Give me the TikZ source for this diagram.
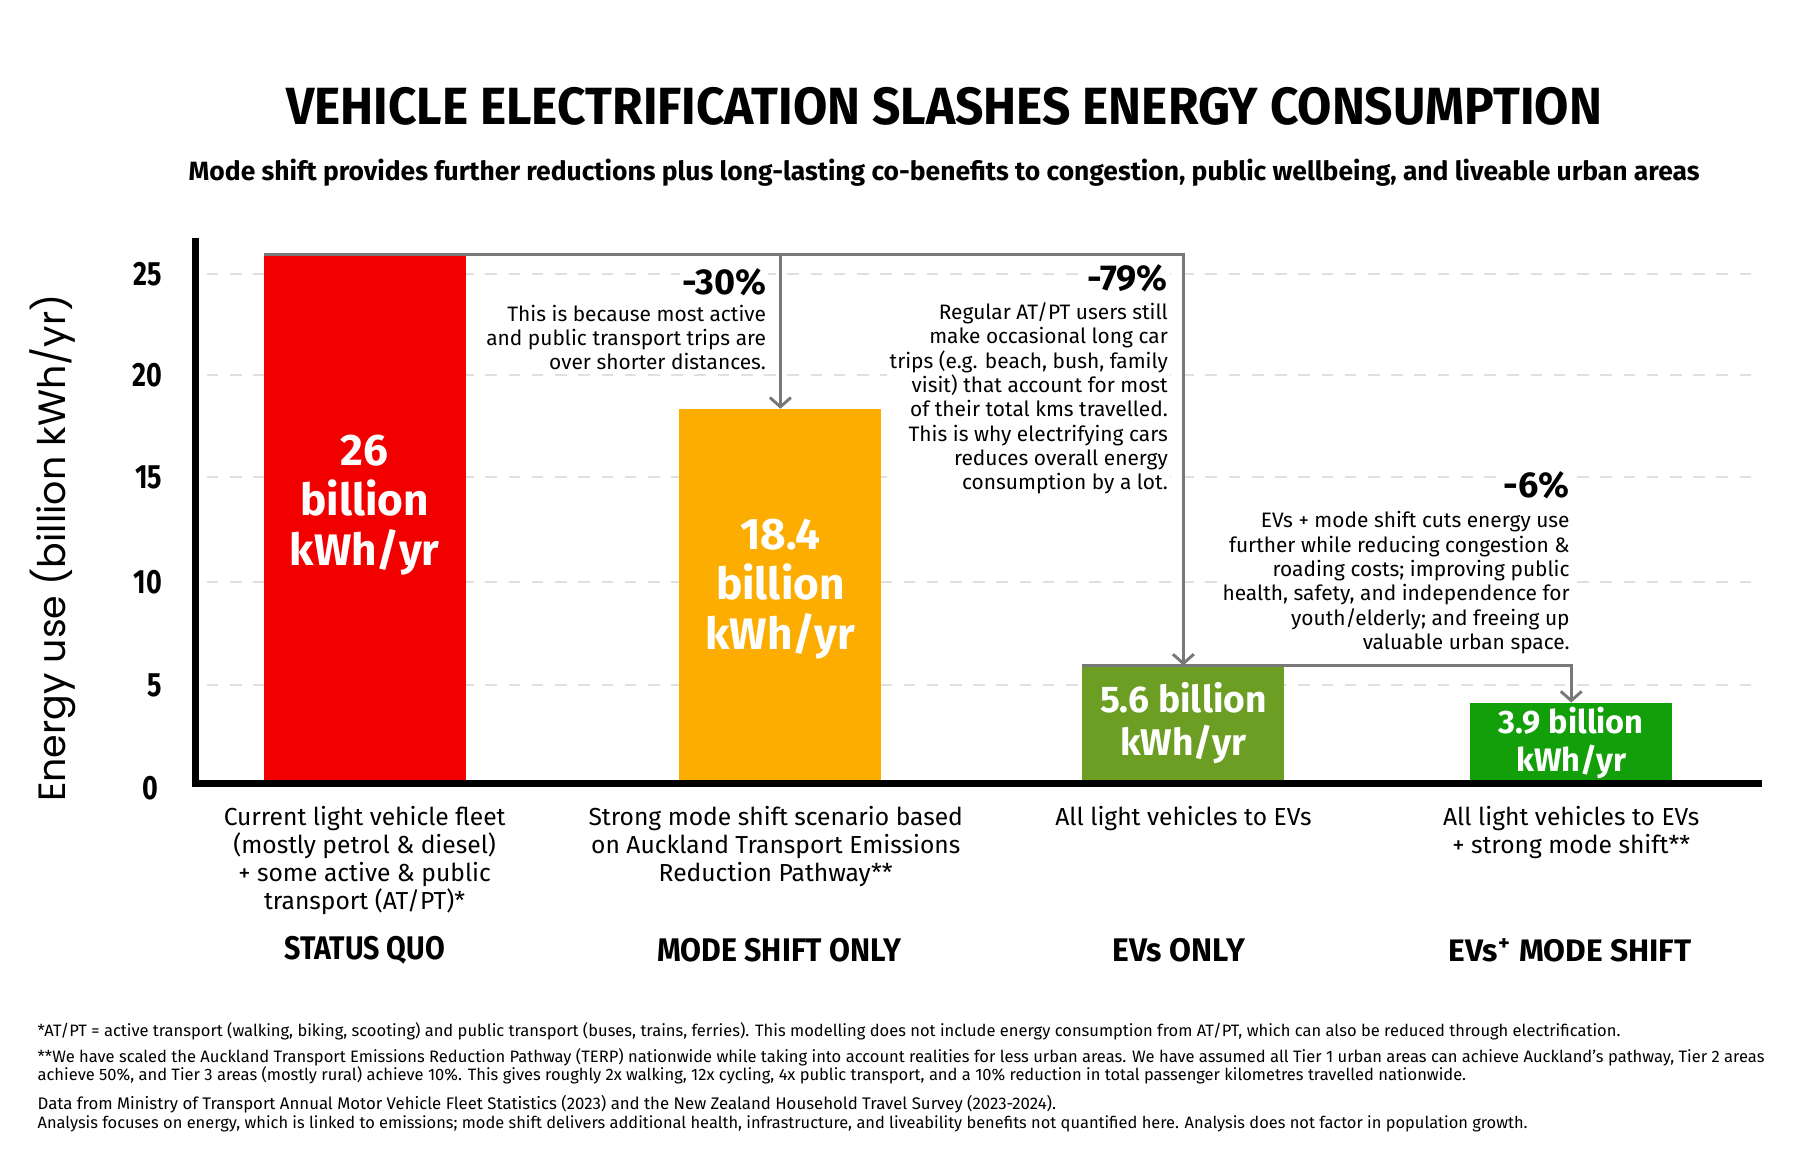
\documentclass[tikz,border=0pt]{standalone}
\usepackage{fontspec}
\setmainfont{Fira Sans}
\newfontfamily\brushfont{Fira Sans}
\newfontfamily\axisfont{Poppins}
\usetikzlibrary{arrows.meta}
\definecolor{barred}{HTML}{F20000}
\definecolor{barorange}{HTML}{FDAD00}
\definecolor{barolive}{HTML}{6B9E23}
\definecolor{bargreen}{HTML}{129F0A}
\definecolor{conngray}{HTML}{787878}
\definecolor{gridgray}{HTML}{E0E0E0}
\begin{document}
\begin{tikzpicture}[x=0.5pt,y=-0.5pt,
  gridln/.style={draw=gridgray, line width=1pt, dash pattern=on 5pt off 5pt},
  axisln/.style={draw=black, line width=3pt},
  barbox/.style={minimum width=87pt, inner sep=0pt, outer sep=0pt, anchor=south},
  barlab/.style={text=white, align=center, inner sep=0pt, font=\bfseries\fontsize{19}{21.5}\selectfont},
  conn/.style={draw=conngray, line width=1.25pt},
  arrowend/.style={-{Straight Barb[length=4pt,width=9pt]}},
  note/.style={fill=white, inner sep=1pt, align=right, anchor=north east, font=\fontsize{9}{10.5}\selectfont},
  pct/.style={fill=white, inner sep=1pt, anchor=east, font=\bfseries\fontsize{15.5}{17}\selectfont},
  catdesc/.style={align=center, anchor=north, inner sep=0pt, font=\fontsize{10.6}{12}\selectfont},
  catname/.style={anchor=center, inner sep=0pt},
  ticklab/.style={anchor=east, inner sep=0pt},
  foot/.style={anchor=west, inner sep=0pt}
]
\useasboundingbox (0,0) rectangle (1550,990.3);
\fill[white] (0,0) rectangle (1550,990.3);

% title
\node (title) at (813,92) {\resizebox{566.5pt}{16pt}{\brushfont\bfseries VEHICLE ELECTRIFICATION SLASHES ENERGY CONSUMPTION}};
\node (subtitle) at (813,149) {\resizebox{650.5pt}{!}{\bfseries Mode shift provides further reductions plus long-lasting co-benefits to congestion, public wellbeing, and liveable urban areas}};

% grid and ticks
\foreach \v/\yy in {25/236,20/323,15/411,10/501,5/590} {
  \draw[gridln] (178,\yy) -- (1517,\yy);
  \node[ticklab] (t\v) at (140,\yy) {\scalebox{0.8}[1]{\brushfont\bfseries\fontsize{14.5}{15}\selectfont \v}};
}
\node[ticklab] (t0) at (137,679) {\scalebox{0.8}[1]{\brushfont\bfseries\fontsize{14.5}{15}\selectfont 0}};

% y label
\node[rotate=90] (ylab) at (45,472) {\resizebox{218.5pt}{!}{\axisfont Energy use (billion kWh/yr)}};

% bars
\node[barbox, fill=barred, minimum height=226.5pt] (b1) at (314,672) {};
\node[barbox, fill=barorange, minimum height=160pt] (b2) at (672,672) {};
\node[barbox, fill=barolive, minimum height=49.5pt] (b3) at (1019,672) {};
\node[barbox, fill=bargreen, minimum height=33.5pt] (b4) at (1353,672) {};

% bar labels
\node[barlab] (l1) at (314,435) {26\\billion\\kWh/yr};
\node[barlab] (l2) at (672,507) {18.4\\billion\\kWh/yr};
\node[barlab, font=\bfseries\fontsize{16}{18.5}\selectfont] (l3) at (1019,623) {5.6 billion\\kWh/yr};
\node[barlab, font=\bfseries\fontsize{14}{16.5}\selectfont] (l4) at (1353,640) {3.9 billion\\kWh/yr};

% axes
\draw[axisln] (168,205) -- (168,678);
\draw[axisln] (165,675) -- (1517,675);

% annotations
\node[pct] (p30) at (662,243) {-30\%};
\node[note] (n30) at (662,260) {This is because most active\\and public transport trips are\\over shorter distances.};
\node[pct] (p79) at (1008,240) {-79\%};
\node[note] (n79) at (1008,258) {Regular AT/PT users still\\make occasional long car\\trips (e.g. beach, bush, family\\visit) that account for most\\of their total kms travelled.\\This is why electrifying cars\\reduces overall energy\\consumption by a lot.};
\node[pct] (p6) at (1354,418) {-6\%};
\node[note] (n6) at (1354,438) {EVs + mode shift cuts energy use\\further while reducing congestion \&\\roading costs; improving public\\health, safety, and independence for\\youth/elderly; and freeing up\\valuable urban space.};

% connectors
\draw[conn, arrowend] (b1.north west) -- (b3.north |- b1.north) -- (b3.north);
\draw[conn, arrowend] (b2.north |- b1.north) -- (b2.north);
\draw[conn, arrowend] (b3.north west) -- (b4.north |- b3.north) -- (b4.north);

% category descriptions
\node[catdesc] (c1) at (314,694) {Current light vehicle fleet\\(mostly petrol \& diesel)\\+ some active \& public\\transport (AT/PT)*};
\node[catdesc] (c2) at (668,694) {Strong mode shift scenario based\\on Auckland Transport Emissions\\Reduction Pathway**};
\node[catdesc] (c3) at (1019,694) {All light vehicles to EVs};
\node[catdesc] (c4) at (1353,694) {All light vehicles to EVs\\+ strong mode shift**};

% category names
\node[catname] (k1) at (314,818) {\resizebox{69pt}{10pt}{\brushfont\bfseries STATUS QUO}};
\node[catname] (k2) at (671,818) {\resizebox{105pt}{10pt}{\brushfont\bfseries MODE SHIFT ONLY}};
\node[catname] (k3) at (1015,818) {\resizebox{57pt}{10pt}{\brushfont\bfseries EVs ONLY}};
\node[catname] (k4) at (1352,818) {\resizebox{104.5pt}{10pt}{\brushfont\bfseries EVs\textsuperscript{+} MODE SHIFT}};

% footnotes
\node[foot] (f1) at (32,888) {\resizebox{681.5pt}{!}{\fontsize{7}{8}\selectfont *AT/PT = active transport (walking, biking, scooting) and public transport (buses, trains, ferries). This modelling does not include energy consumption from AT/PT, which can also be reduced through electrification.}};
\node[foot] (f2) at (32,910) {\resizebox{743.5pt}{!}{\fontsize{7}{8}\selectfont **We have scaled the Auckland Transport Emissions Reduction Pathway (TERP) nationwide while taking into account realities for less urban areas. We have assumed all Tier 1 urban areas can achieve Auckland's pathway, Tier 2 areas}};
\node[foot] (f3) at (32,926) {\resizebox{615pt}{!}{\fontsize{7}{8}\selectfont achieve 50\%, and Tier 3 areas (mostly rural) achieve 10\%. This gives roughly 2x walking, 12x cycling, 4x public transport, and a 10\% reduction in total passenger kilometres travelled nationwide.}};
\node[foot] (f4) at (32,951) {\resizebox{438.5pt}{!}{\fontsize{7}{8}\selectfont Data from Ministry of Transport Annual Motor Vehicle Fleet Statistics (2023) and the New Zealand Household Travel Survey (2023-2024).}};
\node[foot] (f5) at (32,968) {\resizebox{641.5pt}{!}{\fontsize{7}{8}\selectfont Analysis focuses on energy, which is linked to emissions; mode shift delivers additional health, infrastructure, and liveability benefits not quantified here. Analysis does not factor in population growth.}};
\end{tikzpicture}
\end{document}
